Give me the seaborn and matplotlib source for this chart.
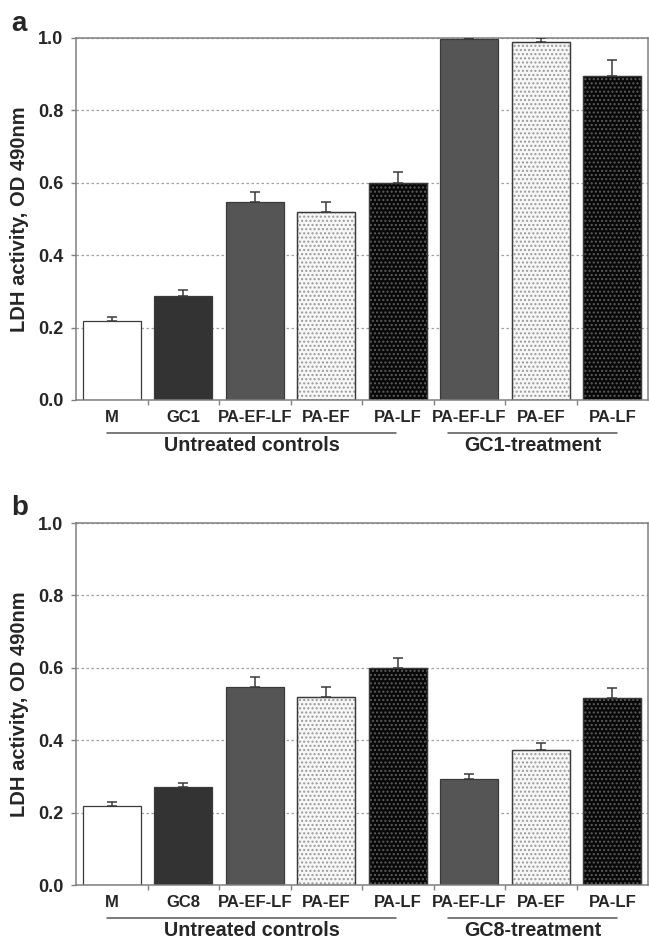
import numpy as np
import pandas as pd
import matplotlib
matplotlib.use("Agg")
import matplotlib.pyplot as plt
from matplotlib.patches import Rectangle
from matplotlib.ticker import FixedLocator, FormatStrFormatter
import seaborn as sns

# Data
labels_a = ["M", "GC1", "PA-EF-LF", "PA-EF", "PA-LF", "PA-EF-LF", "PA-EF", "PA-LF"]
labels_b = ["M", "GC8", "PA-EF-LF", "PA-EF", "PA-LF", "PA-EF-LF", "PA-EF", "PA-LF"]
groups = ["Untreated controls"] * 5 + ["treatment"] * 3
ldh_a = [0.218, 0.288, 0.547, 0.520, 0.600, 0.997, 0.990, 0.895]
err_a = [0.012, 0.016, 0.027, 0.027, 0.030, 0.004, 0.010, 0.044]
ldh_b = [0.218, 0.270, 0.547, 0.520, 0.600, 0.292, 0.373, 0.517]
err_b = [0.012, 0.013, 0.027, 0.027, 0.028, 0.015, 0.018, 0.026]

# bar styling
fills = ["white", "#333333", "#555555", "#f7f7f7", "#080808", "#555555", "#f7f7f7", "#080808"]
hatches = ["", "", "", "....", "....", "", "....", "...."]
hatch_cols = ["", "", "", "#9a9a9a", "#5c5c5c", "", "#9a9a9a", "#5c5c5c"]

sns.set_theme(style="white")
plt.rcParams["font.family"] = ["Liberation Sans", "DejaVu Sans"]
plt.rcParams["font.weight"] = "bold"
plt.rcParams["hatch.linewidth"] = 1.0

fig = plt.figure(figsize=(6.49, 9.41), dpi=100)
ax_a = fig.add_axes([76 / 649, 1 - 400 / 941, 572 / 649, 362 / 941])
ax_b = fig.add_axes([76 / 649, 1 - 885 / 941, 572 / 649, 362 / 941])


def draw_panel(ax, labels, values, errors, treat_name):
    keys = [f"{g}:{l}" for g, l in zip(groups, labels)]
    df = pd.DataFrame({"key": keys, "value": values, "err": errors})
    sns.barplot(data=df, x="key", y="value", hue="key", order=keys,
                palette=dict(zip(keys, fills)), legend=False, width=0.81,
                edgecolor="#3a3a3a", linewidth=0.9, saturation=1, ax=ax, zorder=2)

    # hatch overlays (grey dots on the PA-EF / PA-LF bars)
    for p, h, hc in zip(ax.patches[:len(keys)], hatches, hatch_cols):
        if h:
            ax.add_patch(Rectangle(p.get_xy(), p.get_width(), p.get_height(),
                                   fill=False, hatch=h, edgecolor=hc, linewidth=0, zorder=2.1))
            ax.add_patch(Rectangle(p.get_xy(), p.get_width(), p.get_height(),
                                   fill=False, edgecolor="#3a3a3a", linewidth=0.9, zorder=2.2))

    x = np.arange(len(keys))
    ax.errorbar(x, df["value"], yerr=[np.zeros(len(keys)), df["err"]], fmt="none",
                ecolor="#3a3a3a", elinewidth=1.1, capsize=3.5, capthick=1.1, zorder=3)

    ax.set_xlim(-0.5, len(keys) - 0.5)
    ax.set_ylim(0, 1.0)
    ax.set_yticks(np.arange(0, 1.01, 0.2))
    ax.yaxis.set_major_formatter(FormatStrFormatter("%.1f"))
    ax.tick_params(axis="y", direction="out", length=3.6, width=1, color="#808080",
                   labelsize=13, pad=5.5, left=True)

    # category labels centred under bars, tick marks at bar boundaries
    ax.xaxis.set_major_locator(FixedLocator(x[:-1] + 0.5))
    ax.xaxis.set_minor_locator(FixedLocator(x))
    ax.set_xticklabels([], minor=False)
    ax.set_xticklabels(labels, minor=True)
    ax.tick_params(axis="x", which="major", direction="out", length=3.6, width=1,
                   color="#808080", bottom=True)
    ax.tick_params(axis="x", which="minor", length=0, labelsize=12, pad=7.5)

    ax.set_xlabel("")
    ax.set_ylabel("LDH activity, OD 490nm", fontsize=14.5, fontweight="bold")
    ax.yaxis.set_label_coords(-0.082, 0.5)

    ax.yaxis.grid(True, linestyle=(0, (2, 2)), color="#a0a0a0", linewidth=0.9)
    ax.set_axisbelow(True)
    for s in ax.spines.values():
        s.set_visible(True)
        s.set_color("#808080")
        s.set_linewidth(1.1)

    # group brackets under the axis
    trans = ax.get_xaxis_transform()
    for (x0, x1), name in [((-0.07, 3.98), "Untreated controls"),
                           ((4.70, 7.07), treat_name)]:
        ax.plot([x0, x1], [-0.091, -0.091], color="#555555", lw=1.1,
                transform=trans, clip_on=False)
        ax.text((x0 + x1) / 2, -0.126, name, transform=trans, ha="center",
                va="center", fontsize=14.2, fontweight="bold")


draw_panel(ax_a, labels_a, ldh_a, err_a, "GC1-treatment")
draw_panel(ax_b, labels_b, ldh_b, err_b, "GC8-treatment")

fig.text(11 / 649, 1 - 31 / 941, "a", fontsize=20, fontweight="bold", va="baseline")
fig.text(11 / 649, 1 - 515 / 941, "b", fontsize=20, fontweight="bold", va="baseline")

plt.savefig("out.png", dpi=100)
plt.close()
